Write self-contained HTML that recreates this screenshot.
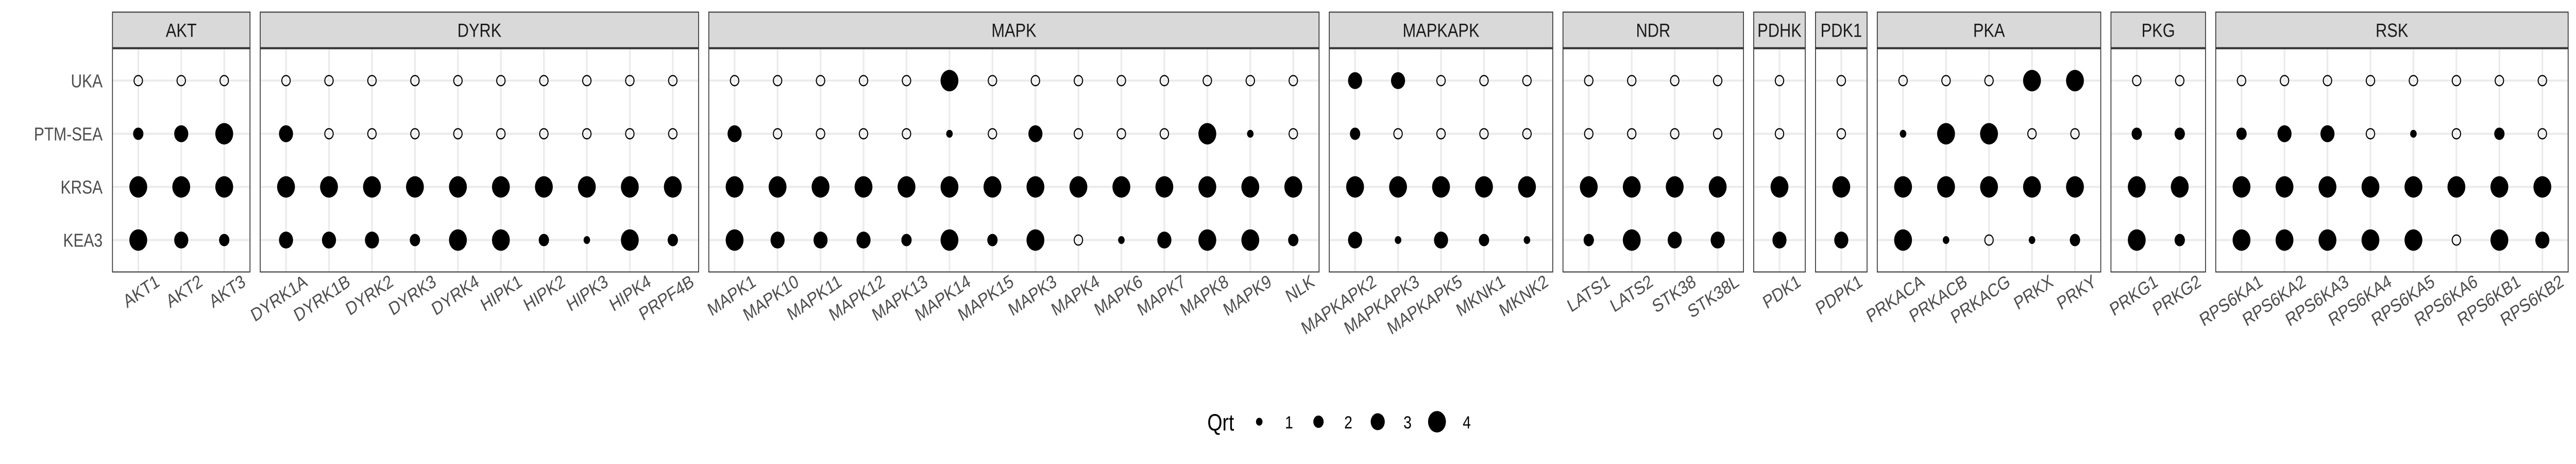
<!DOCTYPE html>
<html><head><meta charset="utf-8"><title>Kinase Qrt dot plot</title>
<style>html,body{margin:0;padding:0;background:#fff;overflow:hidden;}svg{display:block;width:100vw;height:100vh;font-family:"Liberation Sans",Arial,sans-serif;overflow:hidden;}</style>
</head><body>
<svg id="chart" viewBox="0 0 6000 900" preserveAspectRatio="none" xmlns="http://www.w3.org/2000/svg"></svg>
<script>
const methods = ["UKA","PTM-SEA","KRSA","KEA3"];
const families = ["AKT","DYRK","MAPK","MAPKAPK","NDR","PDHK","PDK1","PKA","PKG","RSK"];
const kinases = [
 ["AKT1","AKT2","AKT3"],
 ["DYRK1A","DYRK1B","DYRK2","DYRK3","DYRK4","HIPK1","HIPK2","HIPK3","HIPK4","PRPF4B"],
 ["MAPK1","MAPK10","MAPK11","MAPK12","MAPK13","MAPK14","MAPK15","MAPK3","MAPK4","MAPK6","MAPK7","MAPK8","MAPK9","NLK"],
 ["MAPKAPK2","MAPKAPK3","MAPKAPK5","MKNK1","MKNK2"],
 ["LATS1","LATS2","STK38","STK38L"],
 ["PDK1"],
 ["PDPK1"],
 ["PRKACA","PRKACB","PRKACG","PRKX","PRKY"],
 ["PRKG1","PRKG2"],
 ["RPS6KA1","RPS6KA2","RPS6KA3","RPS6KA4","RPS6KA5","RPS6KA6","RPS6KB1","RPS6KB2"]
];
// Qrt values per method, flattened in kinase order (0 = open circle)
const qrtUKA = [0,0,0, 0,0,0,0,0,0,0,0,0,0, 0,0,0,0,0,4,0,0,0,0,0,0,0,0, 3,3,0,0,0, 0,0,0,0, 0, 0, 0,0,0,4,4, 0,0, 0,0,0,0,0,0,0,0];
const qrtPTM = [2,3,4, 3,0,0,0,0,0,0,0,0,0, 3,0,0,0,0,1,0,3,0,0,0,4,1,0, 2,0,0,0,0, 0,0,0,0, 0, 0, 1,4,4,0,0, 2,2, 2,3,3,0,1,0,2,0];
const qrtKRSA = [4,4,4, 4,4,4,4,4,4,4,4,4,4, 4,4,4,4,4,4,4,4,4,4,4,4,4,4, 4,4,4,4,4, 4,4,4,4, 4, 4, 4,4,4,4,4, 4,4, 4,4,4,4,4,4,4,4];
const qrtKEA3 = [4,3,2, 3,3,3,2,4,4,2,1,4,2, 4,3,3,3,2,4,2,4,0,1,3,4,4,2, 3,1,3,2,1, 2,4,3,3, 3, 3, 4,1,0,1,2, 4,2, 4,4,4,4,4,0,4,3];
const qrtSeries = [qrtUKA, qrtPTM, qrtKRSA, qrtKEA3];
const legendValues = [1,2,3,4];

const NS="http://www.w3.org/2000/svg";
const svg=document.getElementById('chart');
function mk(tag,attrs,parent){const e=document.createElementNS(NS,tag);for(const k in attrs)e.setAttribute(k,attrs[k]);(parent||svg).appendChild(e);return e;}

const U=100.1, GAP=23.8, X0=262, PT=94.5, PB=527.5, ST=23.5, SB=92.5;
const rowStep=(PB-PT)/4.2;
function yScale(i){return PT+rowStep*(0.6+i);}
function rScale(v){return 3.2+4.4*v;}

methods.forEach((m,i)=>{
  const t=mk('text',{x:239,y:yScale(i)+13,'text-anchor':'end','font-size':36,fill:'#4d4d4d'});
  t.textContent=m;
  
  
});

let left=X0, flat=0;
families.forEach((fam,fi)=>{
  const ks=kinases[fi];
  const w=U*(ks.length+0.2);
  const g=mk('g',{});
  
  
  const strip=mk('rect',{x:left,y:ST,width:w,height:SB-ST,fill:'#d9d9d9',stroke:'#333',"stroke-width":2},g);
  
  
  const st=mk('text',{x:left+w/2,y:71.5,'text-anchor':'middle','font-size':37,fill:'#1a1a1a'},g);
  st.textContent=fam;
  
  
  mk('rect',{x:left,y:PT,width:w,height:PB-PT,fill:'#fff'},g);
  const xOf=j=>left+U*(0.6+j);
  ks.forEach((k,j)=>mk('line',{x1:xOf(j),x2:xOf(j),y1:PT,y2:PB,stroke:'#ebebeb','stroke-width':4},g));
  methods.forEach((m,i)=>mk('line',{x1:left,x2:left+w,y1:yScale(i),y2:yScale(i),stroke:'#ebebeb','stroke-width':4},g));
  ks.forEach((k,j)=>{
    const cx=xOf(j);
    methods.forEach((m,i)=>{
      const v=qrtSeries[i][flat+j];
      let c;
      if(v===0){c=mk('circle',{cx:cx,cy:yScale(i),r:9.8,fill:'none',stroke:'#000','stroke-width':2.4},g);}
      else{c=mk('circle',{cx:cx,cy:yScale(i),r:rScale(v),fill:'#000'},g);}
      
      
    });
    const tx=cx+52, ty=553;
    const t=mk('text',{x:tx,y:ty,'text-anchor':'end','font-size':36,fill:'#4d4d4d',transform:'rotate(-30 '+tx+' '+ty+')'});
    t.textContent=k;
    
    
  });
  mk('rect',{x:left,y:PT,width:w,height:PB-PT,fill:'none',stroke:'#333','stroke-width':2},g);
  flat+=ks.length;
  left+=w+GAP;
});

const lg=mk('g',{});


const lt=mk('text',{x:2812,y:835,'font-size':45,fill:'#000'},lg);
lt.textContent='Qrt';


legendValues.forEach((v,i)=>{
  const cx=2933+i*138;
  const c=mk('circle',{cx:cx,cy:818,r:rScale(v),fill:'#000'},lg);
  
  
  const t=mk('text',{x:cx+60,y:831,'font-size':34,fill:'#000'},lg);
  t.textContent=String(v);
  
  
});
</script>
</body></html>
